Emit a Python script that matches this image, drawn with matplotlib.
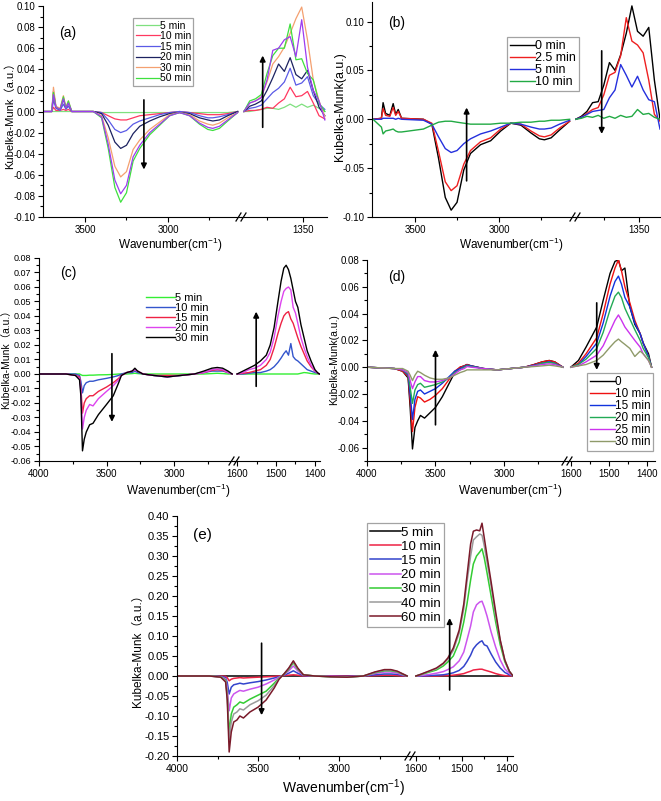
import numpy as np
import matplotlib
matplotlib.use("Agg")
import matplotlib.pyplot as plt
from matplotlib.lines import Line2D
from matplotlib.ticker import FixedLocator, FuncFormatter

plt.rcParams['font.family'] = ['Liberation Sans', 'Noto Sans CJK SC', 'DejaVu Sans']
plt.rcParams['mathtext.default'] = 'regular'

W, H = 661, 801

# ---------------- panel (a) ----------------
a_labels = ['5 min', '10 min', '15 min', '20 min', '30 min', '50 min', None]
a_colors = ['#7fe07f', '#ff3860', '#5a5ae6', '#1c2260', '#f4a070', '#3ee03e', '#9c3cf0']
a_wn_left = [3750, 3700, 3690, 3675, 3650, 3630, 3615, 3600, 3580, 3450, 3400, 3360, 3320, 3285,
             3250, 3210, 3170, 3110, 3050, 2990, 2930, 2870, 2810, 2760, 2730, 2690, 2640, 2580]
a_left = [
    [0, 0, 0, 0, 0, 0, 0, 0, 0, 0, -0.001, -0.001, -0.001, -0.001,
     -0.001, -0.001, -0.001, -0.001, -0.001, -0.001, -0.001, -0.001, -0.001, -0.001, -0.001, -0.001, -0.001, 0],
    [0, 0, 0.004, 0.001, 0.001, 0.002, 0.001, 0.002, 0, 0, -0.001, -0.004, -0.007, -0.008,
     -0.008, -0.006, -0.004, -0.003, -0.002, -0.001, 0, -0.001, -0.002, -0.003, -0.003, -0.003, -0.002, 0],
    [0, 0, 0.011, 0.003, 0.001, 0.007, 0.002, 0.005, 0, 0, -0.001, -0.008, -0.017, -0.020,
     -0.018, -0.012, -0.009, -0.006, -0.003, -0.001, 0, -0.001, -0.004, -0.006, -0.006, -0.005, -0.003, 0],
    [0, 0, 0.019, 0.004, 0.002, 0.012, 0.003, 0.008, 0, 0, -0.002, -0.013, -0.029, -0.035,
     -0.032, -0.021, -0.014, -0.009, -0.005, -0.002, -0.001, -0.002, -0.006, -0.008, -0.009, -0.008, -0.004, 0],
    [0, 0, 0.023, 0.005, 0.003, 0.015, 0.004, 0.010, 0, 0, -0.004, -0.025, -0.052, -0.062,
     -0.057, -0.036, -0.027, -0.017, -0.010, -0.003, -0.001, -0.003, -0.009, -0.012, -0.013, -0.011, -0.006, -0.001],
    [0, 0, 0.018, 0.004, 0.002, 0.014, 0.003, 0.010, 0, 0, -0.006, -0.035, -0.072, -0.086,
     -0.077, -0.047, -0.035, -0.022, -0.013, -0.004, -0.001, -0.004, -0.012, -0.017, -0.018, -0.016, -0.009, -0.001],
    [0, 0, 0.016, 0.004, 0.002, 0.012, 0.003, 0.008, 0, 0, -0.005, -0.031, -0.065, -0.078,
     -0.070, -0.043, -0.032, -0.020, -0.012, -0.004, -0.001, -0.004, -0.011, -0.015, -0.016, -0.014, -0.008, -0.001],
]
a_wn_right = [1432, 1424, 1416, 1408, 1400, 1392, 1384, 1376, 1368, 1360, 1352, 1344, 1336, 1328, 1320]
a_right = [
    [0, 0, 0.001, 0.002, 0.003, 0.003, 0.002, 0.004, 0.007, 0.004, 0.007, 0.004, 0.006, 0.003, 0.0],
    [0, 0.001, 0.001, 0.002, 0.004, 0.003, 0.008, 0.012, 0.023, 0.014, 0.015, 0.019, 0.008, -0.004, -0.007],
    [0, 0.003, 0.004, 0.006, 0.012, 0.018, 0.022, 0.028, 0.041, 0.025, 0.027, 0.033, 0.015, 0.007, 0.002],
    [0, 0.005, 0.007, 0.010, 0.020, 0.032, 0.045, 0.038, 0.051, 0.035, 0.031, 0.039, 0.020, 0.004, -0.004],
    [0, 0.008, 0.010, 0.014, 0.028, 0.045, 0.052, 0.061, 0.074, 0.088, 0.099, 0.068, 0.030, 0.010, -0.005],
    [0, 0.010, 0.012, 0.016, 0.036, 0.053, 0.060, 0.060, 0.083, 0.049, 0.050, 0.036, 0.030, 0.008, 0.0],
    [0, 0.008, 0.010, 0.013, 0.030, 0.058, 0.060, 0.068, 0.071, 0.052, 0.087, 0.042, 0.020, 0.010, -0.008],
]

# ---------------- panel (b) ----------------
b_labels = ['0 min', '2.5 min', '5 min', '10 min']
b_colors = ['#000000', '#ee2020', '#2530dd', '#22aa44']
b_wn_left = [3750, 3700, 3690, 3675, 3650, 3630, 3615, 3600, 3580, 3450, 3400, 3360, 3320, 3285,
             3250, 3210, 3170, 3110, 3050, 2990, 2930, 2870, 2810, 2760, 2730, 2690, 2640, 2580]
b_left = [
    [0, 0.001, 0.017, 0.006, 0.004, 0.016, 0.005, 0.010, 0.001, 0, -0.005, -0.040, -0.080, -0.093,
     -0.085, -0.052, -0.035, -0.026, -0.022, -0.012, -0.004, -0.006, -0.014, -0.020, -0.021, -0.019, -0.011, -0.002],
    [0, 0.001, 0.011, 0.004, 0.003, 0.012, 0.004, 0.008, 0.001, 0, -0.004, -0.033, -0.064, -0.073,
     -0.068, -0.046, -0.032, -0.023, -0.019, -0.010, -0.004, -0.005, -0.012, -0.017, -0.018, -0.016, -0.009, -0.002],
    [0, 0, 0.001, 0.001, 0.001, 0.001, 0, 0.001, 0, -0.001, -0.005, -0.018, -0.030, -0.034,
     -0.032, -0.025, -0.020, -0.015, -0.012, -0.008, -0.004, -0.005, -0.008, -0.010, -0.010, -0.009, -0.005, -0.001],
    [0, -0.008, -0.015, -0.012, -0.011, -0.010, -0.012, -0.013, -0.013, -0.010, -0.006, -0.003, -0.002, -0.002,
     -0.003, -0.004, -0.005, -0.005, -0.005, -0.004, -0.004, -0.003, -0.003, -0.002, -0.002, -0.001, -0.001, 0],
]
b_wn_right = [1440, 1432, 1424, 1416, 1408, 1400, 1392, 1384, 1376, 1368, 1360, 1352, 1344, 1336, 1328, 1320]
b_right = [
    [0, 0.003, 0.008, 0.017, 0.018, 0.035, 0.058, 0.050, 0.066, 0.088, 0.116, 0.090, 0.085, 0.094, 0.040, 0.0],
    [0, 0.002, 0.006, 0.010, 0.012, 0.025, 0.045, 0.048, 0.065, 0.104, 0.080, 0.076, 0.068, 0.040, 0.005, -0.002],
    [0, 0.002, 0.005, 0.008, 0.009, 0.010, 0.022, 0.030, 0.056, 0.045, 0.033, 0.044, 0.030, 0.020, 0.018, -0.010],
    [0, 0.001, 0.003, 0.002, 0.004, 0.001, 0.003, 0.001, 0.004, 0.002, 0.003, 0.010, 0.005, 0.006, 0.002, 0.0],
]

# ---------------- panel (c) ----------------
c_labels = ['5 min', '10 min', '15 min', '20 min', '30 min']
c_colors = ['#33ee33', '#3355cc', '#ee2244', '#dd44ee', '#000000']
c_wn_left = [4000, 3800, 3730, 3700, 3690, 3678, 3665, 3650, 3625, 3600, 3560, 3500, 3450, 3410, 3390,
             3350, 3310, 3290, 3270, 3230, 3150, 3050, 2950, 2850, 2780, 2720, 2680, 2640, 2600, 2570]
c_left = [
    [0, 0, 0, 0, -0.0005, -0.001, -0.001, -0.001, -0.0008, -0.0008, -0.0006, -0.0005, -0.0003, 0, 0,
     0, 0.0003, 0.0005, 0.0003, 0, 0, 0, 0, 0, 0, 0.0003, 0.0005, 0.0003, 0, 0],
    [0, 0, 0, -0.001, -0.005, -0.013, -0.008, -0.006, -0.005, -0.005, -0.004, -0.003, -0.002, -0.001, 0,
     0.001, 0.001, 0.002, 0.001, 0.0, -0.001, -0.002, -0.001, 0.0, 0.001, 0.002, 0.002, 0.002, 0.001, 0.0],
    [0, 0, -0.001, -0.002, -0.009, -0.027, -0.020, -0.017, -0.015, -0.015, -0.012, -0.009, -0.006, -0.003, -0.001,
     0.001, 0.002, 0.003, 0.002, 0.0, -0.001, -0.001, -0.001, 0.0, 0.001, 0.0025, 0.003, 0.0025, 0.001, 0.0],
    [0, 0, -0.001, -0.003, -0.012, -0.038, -0.030, -0.025, -0.021, -0.022, -0.017, -0.012, -0.008, -0.004, -0.001,
     0.001, 0.002, 0.003, 0.002, 0.0, -0.001, -0.002, -0.001, 0.0, 0.001, 0.003, 0.0035, 0.003, 0.001, 0.0],
    [0, 0, -0.001, -0.004, -0.015, -0.053, -0.045, -0.040, -0.035, -0.034, -0.028, -0.021, -0.015, -0.006, -0.001,
     0.001, 0.002, 0.004, 0.002, 0.0, -0.001, -0.002, -0.001, 0.0, 0.002, 0.004, 0.0045, 0.004, 0.002, 0.0],
]
c_wn_right = [1600, 1585, 1570, 1555, 1540, 1525, 1515, 1505, 1495, 1487, 1480, 1474,
              1468, 1462, 1456, 1450, 1444, 1436, 1428, 1420, 1410, 1400, 1392, 1388]
c_right = [
    [0, 0, 0, 0, 0, 0, 0, 0, 0, 0, 0, 0, 0, 0, 0, 0, 0, 0.0005, 0.001, 0.0008, 0.0003, 0, 0, 0],
    [0, 0, 0.0005, 0.001, 0.001, 0.002, 0.003, 0.005, 0.008, 0.011, 0.014, 0.016,
     0.013, 0.021, 0.012, 0.010, 0.009, 0.007, 0.005, 0.003, 0.002, 0.001, 0.0005, 0],
    [0, 0.0005, 0.001, 0.002, 0.003, 0.006, 0.010, 0.018, 0.028, 0.035, 0.040, 0.042,
     0.043, 0.038, 0.035, 0.030, 0.025, 0.019, 0.014, 0.009, 0.005, 0.002, 0.0005, 0],
    [0, 0.001, 0.003, 0.004, 0.006, 0.010, 0.015, 0.025, 0.040, 0.050, 0.057, 0.059,
     0.060, 0.058, 0.046, 0.042, 0.035, 0.025, 0.018, 0.012, 0.006, 0.002, 0.0005, 0],
    [0, 0.002, 0.004, 0.006, 0.009, 0.013, 0.020, 0.032, 0.050, 0.064, 0.073, 0.075,
     0.072, 0.066, 0.058, 0.050, 0.046, 0.034, 0.025, 0.016, 0.009, 0.003, 0.0005, 0],
]

# ---------------- panel (d) ----------------
d_labels = ['0', '10 min', '15 min', '20 min', '25 min', '30 min']
d_colors = ['#000000', '#ee1111', '#1133dd', '#22aa55', '#cc33ee', '#8f9a6a']
d_wn_left = [4000, 3800, 3740, 3700, 3685, 3668, 3650, 3630, 3610, 3580, 3540, 3500, 3450, 3400, 3360,
             3320, 3290, 3270, 3240, 3150, 3050, 2950, 2850, 2780, 2720, 2670, 2630, 2600, 2570]
d_left = [
    [0, -0.001, -0.003, -0.008, -0.030, -0.061, -0.045, -0.040, -0.036, -0.038, -0.034, -0.030, -0.022, -0.012, -0.004,
     0.0, 0.001, 0.002, 0.001, -0.001, -0.002, -0.001, 0.0, 0.002, 0.004, 0.005, 0.004, 0.002, 0.0],
    [0, -0.001, -0.003, -0.007, -0.025, -0.048, -0.030, -0.022, -0.023, -0.026, -0.024, -0.021, -0.016, -0.009, -0.003,
     0.0, 0.001, 0.002, 0.001, -0.001, -0.002, -0.001, 0.0, 0.002, 0.004, 0.005, 0.004, 0.002, 0.0],
    [0, -0.001, -0.002, -0.006, -0.020, -0.039, -0.024, -0.018, -0.017, -0.020, -0.018, -0.016, -0.012, -0.007, -0.003,
     -0.001, 0.0005, 0.0015, 0.001, -0.001, -0.002, -0.001, 0.0, 0.0015, 0.003, 0.004, 0.003, 0.0015, 0.0],
    [0, -0.001, -0.002, -0.005, -0.015, -0.027, -0.017, -0.013, -0.012, -0.015, -0.014, -0.013, -0.011, -0.008, -0.004,
     -0.002, 0.0, 0.001, 0.0005, -0.001, -0.002, -0.001, 0.0, 0.001, 0.003, 0.0035, 0.003, 0.001, 0.0],
    [0, -0.001, -0.002, -0.004, -0.010, -0.016, -0.011, -0.007, -0.007, -0.010, -0.011, -0.011, -0.010, -0.008, -0.005,
     -0.002, -0.001, 0.0005, 0.0, -0.001, -0.002, -0.001, 0.0, 0.001, 0.002, 0.0025, 0.002, 0.001, 0.0],
    [0, -0.001, -0.001, -0.003, -0.006, -0.010, -0.006, -0.003, -0.004, -0.006, -0.008, -0.009, -0.009, -0.008, -0.006,
     -0.004, -0.003, -0.002, -0.002, -0.002, -0.002, -0.001, 0.0, 0.0005, 0.001, 0.0015, 0.001, 0.0005, 0.0],
]
d_wn_right = [1600, 1580, 1560, 1532, 1515, 1497, 1484, 1475, 1467, 1458, 1445, 1432, 1418, 1410, 1396, 1388]
d_right = [
    [0, 0.005, 0.015, 0.030, 0.050, 0.070, 0.079, 0.080, 0.072, 0.074, 0.045, 0.032, 0.025, 0.018, 0.010, 0],
    [0, 0.003, 0.010, 0.022, 0.040, 0.062, 0.074, 0.080, 0.072, 0.060, 0.048, 0.035, 0.025, 0.018, 0.008, 0],
    [0, 0.002, 0.008, 0.018, 0.033, 0.053, 0.064, 0.068, 0.062, 0.052, 0.045, 0.033, 0.025, 0.018, 0.008, 0],
    [0, 0.002, 0.006, 0.014, 0.026, 0.043, 0.053, 0.056, 0.052, 0.044, 0.036, 0.028, 0.020, 0.014, 0.007, 0],
    [0, 0.001, 0.004, 0.009, 0.016, 0.027, 0.035, 0.039, 0.035, 0.030, 0.025, 0.020, 0.015, 0.010, 0.005, 0],
    [0, 0.001, 0.002, 0.005, 0.009, 0.015, 0.019, 0.021, 0.019, 0.017, 0.014, 0.008, 0.012, 0.010, 0.005, 0],
]

# ---------------- panel (e) ----------------
e_labels = ['5 min', '10 min', '15 min', '20 min', '30 min', '40 min', '60 min']
e_colors = ['#000000', '#ee2244', '#3344cc', '#cc55ee', '#33cc33', '#9a9a9a', '#7a1a2a']
e_wn_left = [4000, 3800, 3730, 3700, 3690, 3678, 3665, 3650, 3630, 3612, 3590, 3550, 3500, 3450, 3400, 3370,
             3340, 3310, 3282, 3255, 3220, 3150, 3050, 2950, 2850, 2780, 2720, 2680, 2640, 2600, 2580]
e_left = [
    [0.0] * 31,
    [0, 0, 0, -0.001, -0.004, -0.012, -0.008, -0.006, -0.005, -0.004, -0.005, -0.004, -0.003, -0.002, -0.001, 0,
     0.001, 0.002, 0.003, 0.002, 0, 0, 0, 0, 0, 0.001, 0.002, 0.002, 0.001, 0, 0],
    [0, 0, -0.001, -0.004, -0.016, -0.045, -0.028, -0.022, -0.020, -0.018, -0.020, -0.017, -0.014, -0.010, -0.005, -0.002,
     0.002, 0.007, 0.013, 0.007, 0.001, 0, -0.001, -0.001, 0.0, 0.003, 0.005, 0.005, 0.004, 0.001, 0],
    [0, 0, -0.002, -0.007, -0.030, -0.087, -0.055, -0.045, -0.040, -0.036, -0.038, -0.033, -0.028, -0.020, -0.010, -0.003,
     0.003, 0.013, 0.025, 0.013, 0.002, 0, -0.001, -0.002, 0.0, 0.006, 0.010, 0.010, 0.007, 0.002, 0],
    [0, 0, -0.002, -0.010, -0.045, -0.142, -0.095, -0.078, -0.072, -0.065, -0.068, -0.058, -0.048, -0.038, -0.018, -0.005,
     0.004, 0.017, 0.033, 0.017, 0.003, 0, -0.002, -0.003, 0.0, 0.008, 0.013, 0.013, 0.010, 0.003, 0],
    [0, 0, -0.003, -0.012, -0.050, -0.160, -0.115, -0.095, -0.090, -0.082, -0.085, -0.072, -0.062, -0.048, -0.024, -0.006,
     0.005, 0.019, 0.036, 0.019, 0.003, 0, -0.002, -0.003, 0.0, 0.009, 0.015, 0.015, 0.011, 0.004, 0],
    [0, 0, -0.003, -0.015, -0.060, -0.190, -0.140, -0.115, -0.110, -0.100, -0.105, -0.090, -0.078, -0.060, -0.030, -0.008,
     0.005, 0.020, 0.038, 0.020, 0.003, 0, -0.002, -0.003, 0.0, 0.010, 0.016, 0.016, 0.012, 0.004, 0],
]
e_wn_right = [1600, 1590, 1570, 1555, 1540, 1530, 1518, 1505, 1495, 1488, 1480, 1474,
              1467, 1460, 1455, 1450, 1444, 1435, 1425, 1415, 1405, 1395, 1387]
e_right = [
    [0.0] * 23,
    [0, 0, 0, 0, 0.001, 0.001, 0.002, 0.004, 0.006, 0.009, 0.012, 0.015,
     0.016, 0.017, 0.017, 0.015, 0.013, 0.010, 0.006, 0.003, 0.001, 0.0, 0],
    [0, 0, 0.001, 0.002, 0.003, 0.005, 0.008, 0.014, 0.024, 0.036, 0.052, 0.068,
     0.078, 0.085, 0.088, 0.078, 0.075, 0.055, 0.035, 0.020, 0.009, 0.003, 0],
    [0, 0.001, 0.004, 0.007, 0.011, 0.016, 0.023, 0.038, 0.060, 0.090, 0.125, 0.160,
     0.178, 0.185, 0.187, 0.172, 0.150, 0.110, 0.072, 0.040, 0.018, 0.006, 0],
    [0, 0.003, 0.010, 0.015, 0.025, 0.035, 0.050, 0.085, 0.135, 0.180, 0.240, 0.280,
     0.300, 0.310, 0.318, 0.295, 0.258, 0.200, 0.135, 0.078, 0.036, 0.011, 0],
    [0, 0.004, 0.012, 0.018, 0.030, 0.042, 0.064, 0.108, 0.168, 0.235, 0.300, 0.340,
     0.348, 0.355, 0.352, 0.325, 0.285, 0.225, 0.150, 0.088, 0.040, 0.012, 0],
    [0, 0.004, 0.013, 0.020, 0.032, 0.045, 0.070, 0.115, 0.180, 0.250, 0.330, 0.362,
     0.365, 0.363, 0.382, 0.345, 0.300, 0.235, 0.160, 0.090, 0.040, 0.012, 0],
]

fig = plt.figure(figsize=(W / 100, H / 100), dpi=100)


def px_rect(x0, x1, y0, y1):
    return [x0 / W, 1 - y1 / H, (x1 - x0) / W, (y1 - y0) / H]


def ytick_fmt(v, pos):
    s = f'{v:.2f}'
    return '0.00' if s == '-0.00' else s


def panel(box, split, xlim_l, xlim_r, ylim, yticks, yminor, xt_l, xt_r, fs, yfs=None):
    x0, x1, y0, y1 = box
    axl = fig.add_axes(px_rect(x0, split, y0, y1))
    axr = fig.add_axes(px_rect(split, x1, y0, y1))
    for ax in (axl, axr):
        ax.set_facecolor('none')
        ax.spines['top'].set_visible(False)
        ax.spines['right'].set_visible(False)
        ax.set_ylim(*ylim)
        ax.tick_params(which='both', direction='out', labelsize=fs, width=0.8, pad=2)
        ax.tick_params(which='major', length=3.5)
        ax.tick_params(which='minor', length=2)
    if yfs:
        axl.tick_params(axis='y', labelsize=yfs)
    axl.set_xlim(*xlim_l)
    axr.set_xlim(*xlim_r)
    axl.yaxis.set_major_locator(FixedLocator(yticks))
    axl.yaxis.set_minor_locator(FixedLocator(yminor))
    axl.yaxis.set_major_formatter(FuncFormatter(ytick_fmt))
    axr.spines['left'].set_visible(False)
    axr.tick_params(axis='y', which='both', left=False, labelleft=False)
    axl.xaxis.set_major_locator(FixedLocator(xt_l[0]))
    axl.xaxis.set_minor_locator(FixedLocator(xt_l[1]))
    axr.xaxis.set_major_locator(FixedLocator(xt_r[0]))
    axr.xaxis.set_minor_locator(FixedLocator(xt_r[1]))
    # "//" break mark on the bottom axis
    for off in (-2.5, 2.5):
        fig.add_artist(Line2D([(split + off - 2.5) / W, (split + off + 2.5) / W],
                              [1 - (y1 + 4) / H, 1 - (y1 - 4) / H],
                              color='black', lw=0.9, transform=fig.transFigure))
    return axl, axr


def draw(axl, axr, wl, left, wr, right, colors, labels, lw):
    handles = []
    for yl, yr, c, lab in zip(left, right, colors, labels):
        h, = axl.plot(wl, yl, color=c, lw=lw)
        axr.plot(wr, yr, color=c, lw=lw)
        if lab is not None:
            h.set_label(lab)
            handles.append(h)
    return handles


def arrow(ax, x, ya, yb):
    ax.annotate('', xy=(x, yb), xytext=(x, ya),
                arrowprops=dict(arrowstyle='-|>', color='black', lw=1.2,
                                mutation_scale=8, shrinkA=0, shrinkB=0))


def legend(handles, x, y, fs, hl, frame=True, sp=0.0):
    leg = fig.legend(handles=handles, loc='upper left', bbox_to_anchor=(x / W, 1 - y / H),
                     fontsize=fs, handlelength=hl, handletextpad=0.0, labelspacing=sp,
                     borderpad=0.25, borderaxespad=0, frameon=frame, fancybox=False)
    if frame:
        leg.get_frame().set_edgecolor('#8c8c8c')
        leg.get_frame().set_linewidth(0.9)
    return leg


def ftext(x, y, s, fs, rot=0):
    fig.text(x / W, 1 - y / H, s, fontsize=fs, rotation=rot, ha='center', va='center')


xlab = 'Wavenumber(cm$^{-1}$)'

# (a)
axl, axr = panel((43, 327, 6, 217), 241, (3753, 2560), (1436, 1317), (-0.10, 0.10),
                 [-0.10, -0.08, -0.06, -0.04, -0.02, 0.0, 0.02, 0.04, 0.06, 0.08, 0.10],
                 [-0.09, -0.07, -0.05, -0.03, -0.01, 0.01, 0.03, 0.05, 0.07, 0.09],
                 ([3500, 3000], [3250, 2750]), ([1350], [1400]), 7)
hs = draw(axl, axr, a_wn_left, a_left, a_wn_right, a_right, a_colors, a_labels, 0.9)
arrow(axl, 3145, 0.011, -0.055)
arrow(axr, 1406, -0.015, 0.053)
legend(hs, 133, 18, 7.5, 2.3, sp=0.05)
ftext(68, 33, '(a)', 10)
ftext(170, 245, xlab, 8.5)
ftext(10, 113, 'Kubelka-Munk（a.u.）', 8, 90)

# (b)
axl, axr = panel((372, 660, 2, 217), 575, (3756, 2548), (1441, 1320), (-0.10, 0.12),
                 [-0.10, -0.05, 0.0, 0.05, 0.10],
                 [-0.075, -0.025, 0.025, 0.075],
                 ([3500, 3000], [3250, 2750]), ([1350], [1400]), 7)
hs = draw(axl, axr, b_wn_left, b_left, b_wn_right, b_right, b_colors, b_labels, 1.0)
arrow(axl, 3193, -0.063, 0.012)
arrow(axr, 1403, 0.070, -0.015)
legend(hs, 507, 37, 9, 2.0)
ftext(397, 23, '(b)', 10)
ftext(511, 245, xlab, 8.5)
ftext(340, 107, 'Kubelka-Munk(a.u.)', 9, 90)

# (c)
axl, axr = panel((39, 320, 258, 461), 234, (4000, 2556), (1608, 1387), (-0.06, 0.08),
                 [-0.06, -0.05, -0.04, -0.03, -0.02, -0.01, 0.0, 0.01, 0.02, 0.03, 0.04, 0.05, 0.06, 0.07, 0.08],
                 [-0.055, -0.045, -0.035, -0.025, -0.015, -0.005, 0.005, 0.015, 0.025, 0.035, 0.045,
                  0.055, 0.065, 0.075],
                 ([4000, 3500, 3000], [3750, 3250, 2750]), ([1600, 1500, 1400], [1550, 1450]), 7, yfs=6.5)
hs = draw(axl, axr, c_wn_left, c_left, c_wn_right, c_right, c_colors, c_labels, 1.0)
arrow(axl, 3460, 0.014, -0.033)
arrow(axr, 1551, -0.0085, 0.043)
legend(hs, 143, 290, 8, 2.6, frame=False)
ftext(68, 273, '(c)', 10)
ftext(178, 491, xlab, 8.5)
ftext(6, 357, 'Kubelka-Munk（a.u.）', 7.5, 90)

# (d)
axl, axr = panel((367, 655, 260, 461), 567, (4000, 2540), (1610, 1379), (-0.07, 0.08),
                 [-0.06, -0.04, -0.02, 0.0, 0.02, 0.04, 0.06, 0.08],
                 [-0.07, -0.05, -0.03, -0.01, 0.01, 0.03, 0.05, 0.07],
                 ([4000, 3500, 3000], [3750, 3250, 2750]), ([1600, 1500, 1400], [1550, 1450]), 7)
hs = draw(axl, axr, d_wn_left, d_left, d_wn_right, d_right, d_colors, d_labels, 1.0)
arrow(axl, 3500, -0.043, 0.013)
arrow(axr, 1532, 0.048, -0.002)
legend(hs, 587, 373, 8.5, 2.1)
ftext(397, 277, '(d)', 10)
ftext(510, 491, xlab, 8.5)
ftext(334, 360, 'Kubelka-Munk(a.u.)', 7.5, 90)

# (e)
axl, axr = panel((177, 513, 516, 756), 410, (4000, 2562), (1613, 1387), (-0.20, 0.40),
                 [-0.20, -0.15, -0.10, -0.05, 0.0, 0.05, 0.10, 0.15, 0.20, 0.25, 0.30, 0.35, 0.40],
                 [-0.175, -0.125, -0.075, -0.025, 0.025, 0.075, 0.125, 0.175, 0.225, 0.275, 0.325, 0.375],
                 ([4000, 3500, 3000], [3750, 3250, 2750]), ([1600, 1500, 1400], [1550, 1450]), 7.5, yfs=8)
hs = draw(axl, axr, e_wn_left, e_left, e_wn_right, e_right, e_colors, e_labels, 1.1)
arrow(axl, 3478, 0.082, -0.098)
arrow(axr, 1526, -0.035, 0.145)
legend(hs, 367, 523, 9.5, 2.3, sp=0.15)
ftext(202, 535, '(e)', 11)
ftext(344, 788, xlab, 10)
ftext(138, 648, 'Kubelka-Munk（a.u.）', 8.5, 90)

fig.savefig('out.png', dpi=100)
